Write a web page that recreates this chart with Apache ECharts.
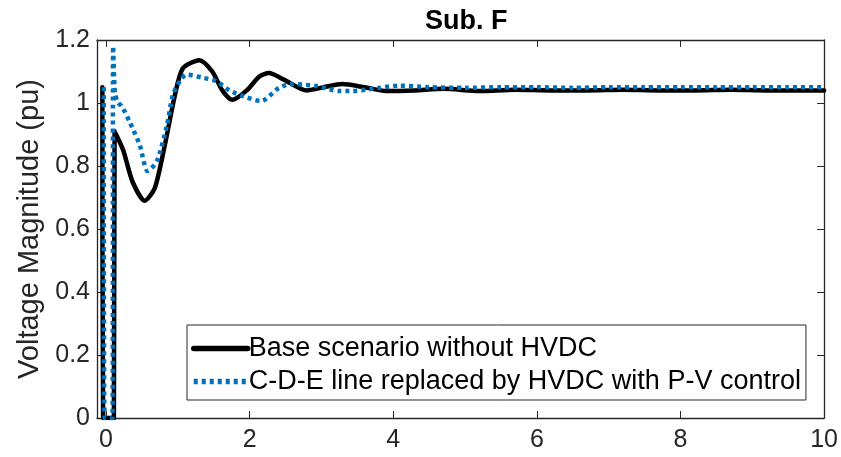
<!DOCTYPE html>
<html>
<head>
<meta charset="utf-8">
<script src="https://cdn.jsdelivr.net/npm/echarts@6/dist/echarts.min.js"></script>
<style>html,body{margin:0;padding:0;background:#fff}#c{width:841px;height:457px}</style>
</head>
<body>
<div id="c"></div>
<script>
var xTicks = [0, 2, 4, 6, 8, 10];
var yTicks = [0, 0.2, 0.4, 0.6, 0.8, 1, 1.2];

var tBase = [-0.05, -0.04, 0.11, 0.12, 0.24, 0.37, 0.54, 0.68, 0.82, 0.96, 1.07, 1.3, 1.48, 1.62, 1.76, 1.96, 2.14, 2.27, 2.47, 2.79, 3.03, 3.29, 3.6, 3.9, 4.3, 4.7, 5.2, 5.7, 6.2, 6.7, 7.2, 7.7, 8.2, 8.7, 9.2, 9.7, 10];
var vBase = [1.05, 0, 0, 0.91, 0.85, 0.75, 0.69, 0.73, 0.867, 1.025, 1.11, 1.136, 1.1, 1.04, 1.01, 1.04, 1.085, 1.095, 1.075, 1.04, 1.05, 1.06, 1.05, 1.038, 1.04, 1.045, 1.038, 1.042, 1.04, 1.04, 1.042, 1.04, 1.04, 1.042, 1.04, 1.04, 1.04];

var tHvdc = [-0.03, -0.02, 0.09, 0.1, 0.125, 0.17, 0.22, 0.33, 0.47, 0.58, 0.71, 0.85, 0.93, 1.03, 1.12, 1.35, 1.53, 1.72, 1.93, 2.16, 2.41, 2.59, 2.93, 3.25, 3.43, 3.8, 4.08, 4.5, 5, 5.5, 6, 6.5, 7, 7.5, 8, 8.5, 9, 9.5, 10];
var vHvdc = [1.05, 0, 0, 1.18, 1.03, 1.0, 0.99, 0.94, 0.867, 0.784, 0.816, 0.93, 1.025, 1.07, 1.09, 1.08, 1.07, 1.04, 1.02, 1.006, 1.048, 1.06, 1.054, 1.038, 1.038, 1.048, 1.055, 1.05, 1.048, 1.05, 1.05, 1.048, 1.05, 1.05, 1.05, 1.05, 1.05, 1.05, 1.05];

var seriesNames = ['Base scenario without HVDC', 'C-D-E line replaced by HVDC with P-V control'];

function pairs(t, v) { return t.map(function (x, i) { return [x, v[i]]; }); }

var axisColor = '#262626';
var font = 'Liberation Sans, Arial, sans-serif';

var chart = echarts.init(document.getElementById('c'), null, { renderer: 'canvas' });
chart.setOption({
  animation: false,
  backgroundColor: '#fff',
  title: {
    text: 'Sub. F', left: 420, top: 3,
    textStyle: { fontFamily: font, fontSize: 27, fontWeight: 'bold', color: '#000' }
  },
  grid: { left: 97, right: 13, top: 40, bottom: 39, containLabel: false },
  legend: {
    orient: 'vertical', left: 187, top: 325,
    backgroundColor: '#fff', borderColor: axisColor, borderWidth: 1,
    padding: [10, 5, 5, 4], itemGap: 6, itemWidth: 54, itemHeight: 8,
    textStyle: { fontFamily: font, fontSize: 27, color: '#000', padding: [0, 0, 0, -4] },
    itemStyle: { opacity: 0 },
    lineStyle: { width: 5.5 },
    data: seriesNames
  },
  xAxis: [{
    type: 'value', min: -0.125, max: 10,
    axisLine: { show: true, onZero: false, lineStyle: { color: axisColor, width: 1.3 } },
    axisTick: { show: true, inside: true, length: 7, customValues: xTicks, lineStyle: { color: axisColor } },
    axisLabel: { fontFamily: font, fontSize: 25, color: axisColor, margin: 10, customValues: xTicks },
    splitLine: { show: false }
  }, {
    type: 'value', position: 'top', min: -0.125, max: 10,
    axisLine: { show: true, onZero: false, lineStyle: { color: axisColor, width: 1.3 } },
    axisTick: { show: true, inside: true, length: 7, customValues: xTicks, lineStyle: { color: axisColor } },
    axisLabel: { show: false }, splitLine: { show: false }
  }],
  yAxis: [{
    type: 'value', min: yTicks[0], max: yTicks[yTicks.length - 1], interval: 0.2,
    name: 'Voltage Magnitude (pu)', nameLocation: 'middle', nameGap: 53,
    nameTextStyle: { fontFamily: font, fontSize: 29, color: axisColor },
    axisLine: { show: true, onZero: false, lineStyle: { color: axisColor, width: 1.3 } },
    axisTick: { show: true, inside: true, length: 7, lineStyle: { color: axisColor } },
    axisLabel: { fontFamily: font, fontSize: 25, color: axisColor, margin: 7,
      formatter: function (v) { return String(Math.round(v * 10) / 10); } },
    splitLine: { show: false }
  }, {
    type: 'value', position: 'right', min: 0, max: 1.2, interval: 0.2,
    axisLine: { show: true, onZero: false, lineStyle: { color: axisColor, width: 1.3 } },
    axisTick: { show: true, inside: true, length: 7, lineStyle: { color: axisColor } },
    axisLabel: { show: false }, splitLine: { show: false }
  }],
  series: [{
    name: seriesNames[0], type: 'line', xAxisIndex: 0, yAxisIndex: 0,
    data: pairs(tBase, vBase), showSymbol: false, symbol: 'none', smooth: 0.25,
    lineStyle: { color: '#000', width: 4.5, cap: 'round', join: 'round' },
    itemStyle: { color: '#000' }
  }, {
    name: seriesNames[1], type: 'line', xAxisIndex: 0, yAxisIndex: 0,
    data: pairs(tHvdc, vHvdc), showSymbol: false, symbol: 'none', smooth: 0.25,
    lineStyle: { color: '#0072BD', width: 4.5, type: [4, 4], cap: 'butt' },
    itemStyle: { color: '#0072BD' }
  }]
});
</script>
</body>
</html>
